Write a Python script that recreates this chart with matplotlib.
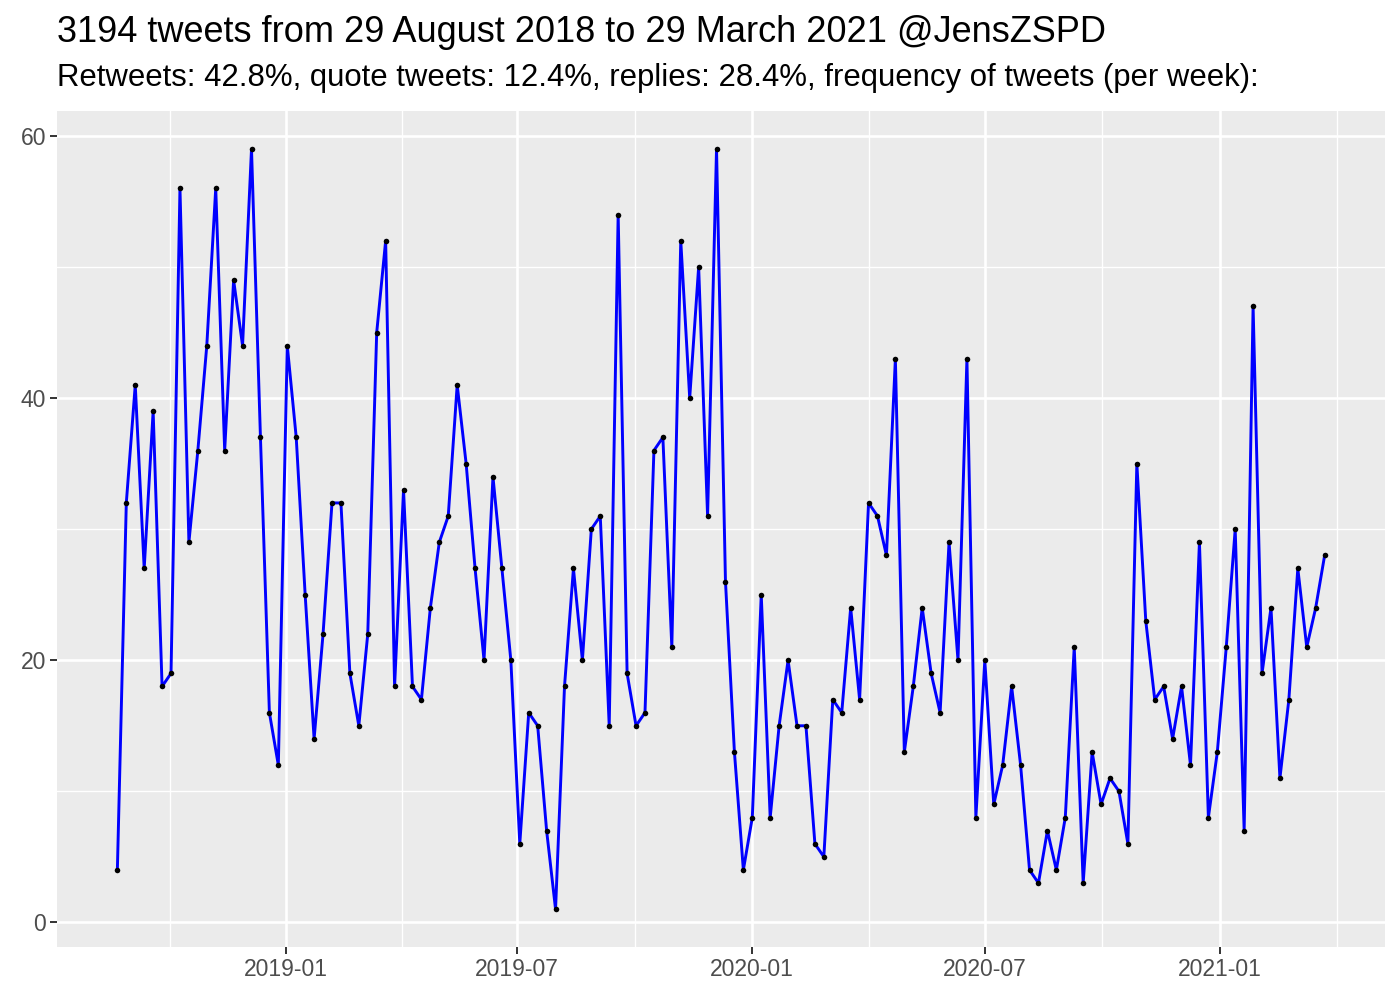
import datetime as dt
import matplotlib
matplotlib.use("Agg")
import matplotlib.pyplot as plt
import matplotlib.dates as mdates
import numpy as np

plt.rcParams['font.family'] = ['Liberation Sans', 'DejaVu Sans']

# weekly tweet counts (sum = 3194)
counts = [4, 32, 41, 27, 39, 18, 19, 56, 29, 36, 44, 56, 36, 49, 44, 59, 37, 16, 12, 44, 37, 25,
          14, 22, 32, 32, 19, 15, 22, 45, 52, 18, 33, 18, 17, 24, 29, 31, 41, 35, 27, 20, 34, 27, 20,
          6, 16, 15, 7, 1, 18, 27, 20, 30, 31, 15, 54, 19, 15, 16, 36, 37, 21, 52, 40, 50, 31,
          59, 26, 13, 4, 8, 25, 8, 15, 20, 15, 15, 6, 5, 17, 16, 24, 17, 32, 31, 28, 43, 13,
          18, 24, 19, 16, 29, 20, 43, 8, 20, 9, 12, 18, 12, 4, 3, 7, 4, 8, 21, 3, 13, 9, 11,
          10, 6, 35, 23, 17, 18, 14, 18, 12, 29, 8, 13, 21, 30, 7, 47, 19, 24, 11, 17, 27, 21, 24, 28]
first_week = dt.datetime(2018, 8, 22)
weeks = [first_week + dt.timedelta(days=7 * i) for i in range(len(counts))]

title = "3194 tweets from 29 August 2018 to 29 March 2021 @JensZSPD"
subtitle = ("Retweets: 42.8%, quote tweets: 12.4%, replies: 28.4%, "
            "frequency of tweets (per week):")
x_breaks = [dt.datetime(2019, 1, 1), dt.datetime(2019, 7, 1), dt.datetime(2020, 1, 1),
            dt.datetime(2020, 7, 1), dt.datetime(2021, 1, 1)]
y_breaks = [0, 20, 40, 60]

fig = plt.figure(figsize=(14, 10), dpi=100)
ax = fig.add_axes([57 / 1400, 1 - 947.3 / 1000, 1328 / 1400, (947.3 - 111) / 1000])
ax.set_facecolor("#EBEBEB")

x = mdates.date2num(weeks)
ax.plot(x, counts, color="blue", lw=2.1, zorder=3)
ax.scatter(x, counts, s=16, color="black", zorder=4, linewidths=0)

# ggplot-like 5% expansion
span = x[-1] - x[0]
ax.set_xlim(x[0] - 0.05 * span, x[-1] + 0.05 * span)
yspan = max(counts) - min(counts)
ax.set_ylim(min(counts) - 0.05 * yspan, max(counts) + 0.05 * yspan)

xb = mdates.date2num(x_breaks)
step = xb[1] - xb[0]
x_minor = [xb[0] - step / 2] + list((xb[:-1] + xb[1:]) / 2) + [xb[-1] + (xb[-1] - xb[-2]) / 2]
ax.set_xticks(xb)
ax.set_xticklabels([d.strftime("%Y-%m") for d in x_breaks])
ax.set_xticks(x_minor, minor=True)
ax.set_yticks(y_breaks)
ax.set_yticks([10, 30, 50], minor=True)

ax.grid(which="major", color="white", lw=1.9)
ax.grid(which="minor", color="white", lw=1.0)
ax.set_axisbelow(True)
for s in ax.spines.values():
    s.set_visible(False)
ax.tick_params(which="major", length=5, width=1.4, color="#333333",
               labelsize=16.5, labelcolor="#4D4D4D", pad=3)
ax.tick_params(which="minor", length=0)

fig.text(57 / 1400, 1 - 32 / 1000, title, fontsize=26, va="center", ha="left")
fig.text(57 / 1400, 1 - 78 / 1000, subtitle, fontsize=22.4, va="center", ha="left")

fig.savefig("out.png", dpi=100)
